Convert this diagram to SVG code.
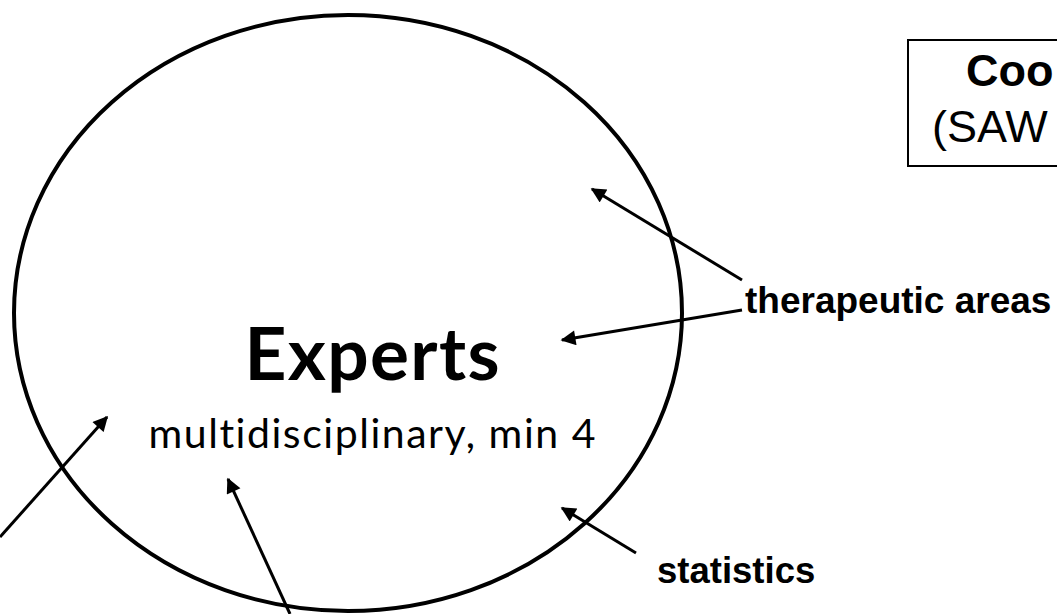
<svg xmlns="http://www.w3.org/2000/svg" width="1057" height="614" viewBox="0 0 1057 614">
<defs>
<style>
.ln{stroke:#000;stroke-width:3;fill:none}
.lbl{font-family:"Liberation Sans",Arial,sans-serif;font-weight:bold;fill:#000}
.cal{font-family:Lato,"Open Sans",sans-serif;fill:#000;font-variant-ligatures:none}
</style>
<marker id="ah" viewBox="0 0 10 10" refX="9" refY="5" markerWidth="5.5" markerHeight="5" markerUnits="strokeWidth" orient="auto">
<path d="M0,0 L10,5 L0,10 z" fill="#000"/>
</marker>
</defs>
<rect width="1057" height="614" fill="#fff"/>
<g id="coordinator">
<rect x="908" y="40" width="160" height="126" fill="#fff" stroke="#000" stroke-width="2"/>
<text x="966" y="86" class="lbl" font-size="45">Coo</text>
<text x="932" y="142" font-family="Liberation Sans,Arial,sans-serif" font-size="45" fill="#000">(SAW</text>
</g>
<g id="experts">
<ellipse cx="348" cy="313" rx="334" ry="298" fill="none" stroke="#000" stroke-width="4"/>
<text x="372" y="380" class="cal" font-weight="bold" font-size="73" text-anchor="middle" textLength="255">Experts</text>
<text x="372" y="448" class="cal" font-size="41" text-anchor="middle" textLength="447">multidisciplinary, min 4</text>
</g>
<g id="therapeutic">
<text x="745" y="313" class="lbl" font-size="37">therapeutic areas</text>
</g>
<g id="statistics">
<text x="657" y="583" class="lbl" font-size="36.5">statistics</text>
</g>
<g id="connectors">
<line class="ln" x1="742" y1="280" x2="592" y2="189" marker-end="url(#ah)"/>
<line class="ln" x1="742" y1="310" x2="562" y2="340" marker-end="url(#ah)"/>
<line class="ln" x1="636" y1="553" x2="562" y2="508" marker-end="url(#ah)"/>
<line class="ln" x1="290" y1="614" x2="228" y2="479" marker-end="url(#ah)"/>
<line class="ln" x1="0" y1="537" x2="107" y2="417" marker-end="url(#ah)"/>
</g>
</svg>
